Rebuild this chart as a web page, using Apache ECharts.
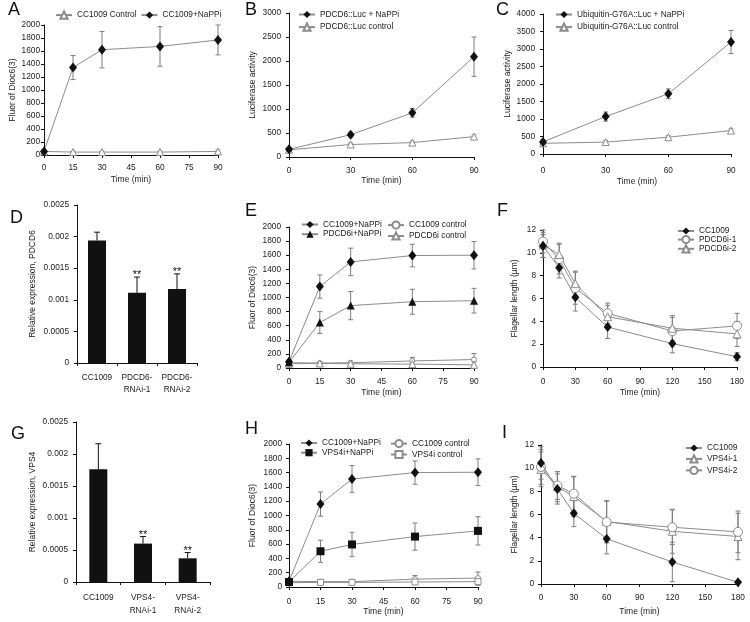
<!DOCTYPE html>
<html><head><meta charset="utf-8">
<script src="https://cdn.jsdelivr.net/npm/echarts@6/dist/echarts.min.js"></script>
<style>html,body{margin:0;padding:0;background:#fff}#c{width:750px;height:622px}</style>
</head><body><div id="c"></div>
<script>
// ---------- DATA ----------
// Panel A
const timeA = [0, 15, 30, 60, 90];
const aControl = [55, 45, 45, 45, 55];
const aControlErr = [15, 15, 15, 15, 20];
const aNaPPi = [55, 1345, 1620, 1670, 1770];
const aNaPPiErr = [20, 185, 280, 305, 230];
// Panel B
const timeB = [0, 30, 60, 90];
const bNaPPi = [160, 465, 920, 2090];
const bNaPPiErr = [40, 50, 90, 410];
const bControl = [150, 260, 300, 425];
const bControlErr = [35, 30, 30, 35];
// Panel C
const timeC = [0, 30, 60, 90];
const cNaPPi = [345, 1070, 1720, 3200];
const cNaPPiErr = [60, 130, 140, 330];
const cControl = [305, 340, 480, 670];
const cControlErr = [40, 40, 40, 50];
// Panel D
const catsD = ['CC1009', 'PDCD6-\nRNAi-1', 'PDCD6-\nRNAi-2'];
const dExpr = [0.00194, 0.00111, 0.00117];
const dErr = [0.00013, 0.00025, 0.00024];
const dSig = ['', '**', '**'];
// Panel E
const timeE = [0, 15, 30, 60, 90];
const eCCNaPPi = [90, 1155, 1505, 1595, 1600];
const eCCNaPPiErr = [25, 165, 195, 160, 195];
const ePDNaPPi = [80, 645, 885, 940, 955];
const ePDNaPPiErr = [25, 155, 200, 177, 175];
const eCCControl = [75, 70, 75, 100, 120];
const eCCControlErr = [15, 15, 20, 50, 85];
const ePDControl = [60, 65, 60, 55, 45];
const ePDControlErr = [15, 15, 15, 30, 40];
// Panel F
const timeF = [0, 15, 30, 60, 120, 180];
const fCC = [10.6, 8.7, 6.1, 3.5, 2.05, 0.9];
const fCCErr = [1.0, 0.9, 1.2, 1.0, 0.8, 0.35];
const fPD1 = [11.0, 9.45, 6.9, 4.7, 3.15, 3.6];
const fPD1Err = [1.0, 1.3, 1.4, 0.9, 1.2, 1.1];
const fPD2 = [10.7, 9.85, 7.3, 4.4, 3.4, 2.9];
const fPD2Err = [1.1, 1.0, 1.1, 1.0, 1.1, 1.1];
// Panel G
const catsG = ['CC1009', 'VPS4-\nRNAi-1', 'VPS4-\nRNAi-2'];
const gExpr = [0.00176, 0.0006, 0.00037];
const gErr = [0.0004, 0.00011, 0.00009];
const gSig = ['', '**', '**'];
// Panel H
const timeH = [0, 15, 30, 60, 90];
const hCCNaPPi = [80, 1160, 1510, 1600, 1605];
const hCCNaPPiErr = [25, 170, 187, 163, 187];
const hVPSNaPPi = [70, 500, 595, 705, 785];
const hVPSNaPPiErr = [25, 155, 170, 190, 198];
const hCCControl = [80, 75, 75, 110, 125];
const hCCControlErr = [15, 15, 20, 50, 85];
const hVPSControl = [60, 65, 65, 70, 75];
const hVPSControlErr = [15, 15, 15, 30, 50];
// Panel I
const timeI = [0, 15, 30, 60, 120, 180];
const iCC = [10.45, 8.2, 6.1, 3.9, 1.9, 0.15];
const iCCErr = [1.4, 1.3, 1.15, 1.3, 1.7, 0.1];
const iVPS1 = [9.9, 8.4, 7.55, 5.4, 4.55, 4.1];
const iVPS1Err = [1.5, 1.3, 1.7, 1.8, 1.9, 2.0];
const iVPS2 = [10.1, 8.5, 7.8, 5.35, 4.9, 4.5];
const iVPS2Err = [1.5, 1.2, 1.5, 1.8, 1.5, 1.8];

const panelLetters = ['A', 'B', 'C', 'D', 'E', 'F', 'G', 'H', 'I'];

// ---------- STYLE ----------
const FONT = '"Liberation Sans", Arial, Helvetica, sans-serif';
const GRAY = '#8c8c8c';
const ERR = '#7d7d7d';
const BLACK = '#111';
const TXT = '#222';
const FS = 8.3;
const plain = v => String(v);

const grids = [
  {left: 44, top: 25, width: 174, height: 130},
  {left: 289, top: 13, width: 185, height: 144},
  {left: 543, top: 14, width: 188, height: 140},
  {left: 77, top: 205, width: 120, height: 158},
  {left: 289, top: 227, width: 185, height: 141},
  {left: 543, top: 230, width: 194, height: 137},
  {left: 76, top: 422, width: 134, height: 160},
  {left: 289, top: 444, width: 189, height: 143},
  {left: 541, top: 445, width: 197, height: 139}
];

const axisLine = {show: true, lineStyle: {color: BLACK, width: 1}};
const axisTick = {show: true, length: 3, lineStyle: {color: BLACK, width: 1}};

function xVal(gi, max, interval, margin, nameGap) {
  return {type: 'value', gridIndex: gi, min: 0, max, interval,
    axisLine, axisTick, splitLine: {show: false},
    axisLabel: {fontSize: FS, color: TXT, margin, fontFamily: FONT, formatter: plain},
    name: 'Time (min)', nameLocation: 'middle', nameGap,
    nameTextStyle: {fontSize: 8.5, color: TXT, fontFamily: FONT}};
}
function xCat(gi, data, margin, lh) {
  return {type: 'category', gridIndex: gi, data, boundaryGap: true,
    axisLine, axisTick: {show: true, length: 3, alignWithLabel: false, lineStyle: {color: BLACK}},
    axisLabel: {fontSize: FS, color: TXT, margin, lineHeight: lh, fontFamily: FONT, interval: 0}};
}
function yVal(gi, max, interval, margin, name, nameGap) {
  return {type: 'value', gridIndex: gi, min: 0, max, interval,
    axisLine, axisTick, splitLine: {show: false},
    axisLabel: {fontSize: FS, color: TXT, margin, fontFamily: FONT, formatter: plain},
    name, nameLocation: 'middle', nameGap, nameRotate: 90,
    nameTextStyle: {fontSize: 8.5, color: TXT, fontFamily: FONT}};
}

const SYM = {
  bDiamond: {symbol: 'diamond', size: [8, 10], fill: BLACK, stroke: BLACK, bw: 0},
  bTri: {symbol: 'triangle', size: 8, fill: BLACK, stroke: BLACK, bw: 0},
  bRect: {symbol: 'rect', size: 8, fill: BLACK, stroke: BLACK, bw: 0},
  oTri: {symbol: 'triangle', size: 7, fill: '#fff', stroke: GRAY, bw: 1},
  oCircS: {symbol: 'circle', size: 5, fill: '#fff', stroke: GRAY, bw: 1},
  oRectS: {symbol: 'rect', size: 6, fill: '#fff', stroke: GRAY, bw: 1},
  oCirc: {symbol: 'circle', size: 9, fill: '#fff', stroke: GRAY, bw: 1},
  oTriL: {symbol: 'triangle', size: 8, fill: '#fff', stroke: GRAY, bw: 1}
};

function line(name, xs, ys, gi, s, z) {
  return {type: 'line', name, xAxisIndex: gi, yAxisIndex: gi, z: z || 3,
    data: xs.map((x, i) => [x, ys[i]]),
    symbol: s.symbol, symbolSize: s.size, showAllSymbol: true,
    lineStyle: {color: GRAY, width: 1},
    itemStyle: {color: s.fill, borderColor: s.stroke, borderWidth: s.bw},
    emphasis: {disabled: true}};
}
function err(xs, ys, es, gi, capW) {
  const w = (capW || 5) / 2;
  return {type: 'custom', xAxisIndex: gi, yAxisIndex: gi, z: 2, silent: true,
    data: xs.map((x, i) => [x, ys[i] - es[i], ys[i] + es[i]]),
    encode: {x: 0, y: [1, 2]},
    renderItem(p, api) {
      const x = api.value(0);
      const lo = api.coord([x, api.value(1)]);
      const hi = api.coord([x, api.value(2)]);
      const st = {stroke: ERR, lineWidth: 1};
      return {type: 'group', children: [
        {type: 'line', shape: {x1: lo[0], y1: lo[1], x2: hi[0], y2: hi[1]}, style: st},
        {type: 'line', shape: {x1: lo[0] - w, y1: lo[1], x2: lo[0] + w, y2: lo[1]}, style: st},
        {type: 'line', shape: {x1: hi[0] - w, y1: hi[1], x2: hi[0] + w, y2: hi[1]}, style: st}
      ]};
    }};
}
function bar(vals, gi) {
  return {type: 'bar', xAxisIndex: gi, yAxisIndex: gi, data: vals, barWidth: 18,
    itemStyle: {color: BLACK}, emphasis: {disabled: true}, z: 2};
}
function barErr(vals, errs, sig, gi) {
  return {type: 'custom', xAxisIndex: gi, yAxisIndex: gi, z: 3, silent: true,
    data: vals.map((v, i) => [i, v, v + errs[i]]),
    encode: {x: 0, y: [1, 2]},
    renderItem(p, api) {
      const i = p.dataIndex;
      const a = api.coord([api.value(0), api.value(1)]);
      const b = api.coord([api.value(0), api.value(2)]);
      const st = {stroke: BLACK, lineWidth: 1};
      const ch = [
        {type: 'line', shape: {x1: a[0], y1: a[1], x2: b[0], y2: b[1]}, style: st},
        {type: 'line', shape: {x1: b[0] - 3, y1: b[1], x2: b[0] + 3, y2: b[1]}, style: st}
      ];
      if (sig[i]) ch.push({type: 'text', x: b[0], y: b[1] - 2,
        style: {text: sig[i], fontSize: 11, fontFamily: FONT, fill: BLACK, align: 'center', verticalAlign: 'middle'}});
      return {type: 'group', children: ch};
    }};
}
function legend(left, top, orient, gap, names, ih) {
  return {left, top, orient, padding: 0, itemGap: gap, itemWidth: 16, itemHeight: ih || 9,
    selectedMode: false, data: names,
    textStyle: {fontSize: FS, color: TXT, fontFamily: FONT}};
}

const letterPos = [[8, 1], [245, 1], [496, 1], [10, 209], [245, 202], [497, 202], [11, 425], [245, 420], [502, 424]];

const option = {
  animation: false,
  backgroundColor: '#fff',
  title: panelLetters.map((t, i) => ({text: t, left: letterPos[i][0], top: letterPos[i][1], padding: 0,
    textStyle: {fontSize: 18, fontWeight: 'normal', color: BLACK, fontFamily: FONT}})),
  grid: grids,
  xAxis: [
    xVal(0, 90, 15, 9, 20),
    xVal(1, 90, 30, 10, 19),
    xVal(2, 90, 30, 13, 23),
    xCat(3, catsD, 9, 11.7),
    xVal(4, 90, 15, 10, 20),
    xVal(5, 180, 30, 11, 21),
    xCat(6, catsG, 10, 12.3),
    xVal(7, 90, 15, 11, 20),
    xVal(8, 180, 30, 10, 23)
  ],
  yAxis: [
    yVal(0, 2000, 200, 4, 'Fluor of Dioc6(3)', 26.5),
    yVal(1, 3000, 500, 8, 'Luciferase activity', 31.4),
    yVal(2, 4000, 500, 8, 'Luciferase activity', 30.4),
    yVal(3, 0.0025, 0.0005, 8, 'Relative expression, PDCD6', 39.4),
    yVal(4, 2000, 200, 8, 'Fluor of Dioc6(3)', 31.4),
    yVal(5, 12, 2, 7, 'Flagellar length (µm)', 23.7),
    yVal(6, 0.0025, 0.0005, 8, 'Relative expression, VPS4', 38.4),
    yVal(7, 2000, 200, 7, 'Fluor of Dioc6(3)', 32),
    yVal(8, 12, 2, 7, 'Flagellar length (µm)', 21.7)
  ],
  legend: [
    legend(55, 10.5, 'horizontal', 4, ['CC1009 Control', 'CC1009+NaPPi']),
    legend(298, 10.5, 'vertical', 4, ['PDCD6::Luc + NaPPi', 'PDCD6::Luc control']),
    legend(555, 10.5, 'vertical', 4, ['Ubiquitin-G76A::Luc + NaPPi', 'Ubiquitin-G76A::Luc control']),
    legend(301, 220.5, 'vertical', 1.7, ['CC1009+NaPPi', 'PDCD6i+NaPPi']),
    legend(387, 220.5, 'vertical', 1.7, ['CC1009 control', 'PDCD6i control']),
    legend(677, 227, 'vertical', 0, ['CC1009', 'PDCD6i-1', 'PDCD6i-2']),
    legend(300, 439, 'vertical', 1.7, ['CC1009+NaPPi', 'VPS4i+NaPPi']),
    legend(390, 439, 'vertical', 1.7, ['CC1009 control', 'VPS4i control']),
    legend(685, 444, 'vertical', 2.3, ['CC1009', 'VPS4i-1', 'VPS4i-2'])
  ],
  series: [
    // A
    err(timeA, aControl, aControlErr, 0), line('CC1009 Control', timeA, aControl, 0, SYM.oTri),
    err(timeA, aNaPPi, aNaPPiErr, 0), line('CC1009+NaPPi', timeA, aNaPPi, 0, SYM.bDiamond, 4),
    // B
    err(timeB, bNaPPi, bNaPPiErr, 1), line('PDCD6::Luc + NaPPi', timeB, bNaPPi, 1, SYM.bDiamond, 4),
    err(timeB, bControl, bControlErr, 1), line('PDCD6::Luc control', timeB, bControl, 1, SYM.oTri),
    // C
    err(timeC, cNaPPi, cNaPPiErr, 2), line('Ubiquitin-G76A::Luc + NaPPi', timeC, cNaPPi, 2, SYM.bDiamond, 4),
    err(timeC, cControl, cControlErr, 2), line('Ubiquitin-G76A::Luc control', timeC, cControl, 2, SYM.oTri),
    // D
    bar(dExpr, 3), barErr(dExpr, dErr, dSig, 3),
    // E
    err(timeE, eCCNaPPi, eCCNaPPiErr, 4), line('CC1009+NaPPi', timeE, eCCNaPPi, 4, SYM.bDiamond, 4),
    err(timeE, ePDNaPPi, ePDNaPPiErr, 4), line('PDCD6i+NaPPi', timeE, ePDNaPPi, 4, SYM.bTri, 4),
    err(timeE, eCCControl, eCCControlErr, 4), line('CC1009 control', timeE, eCCControl, 4, SYM.oCircS),
    err(timeE, ePDControl, ePDControlErr, 4), line('PDCD6i control', timeE, ePDControl, 4, SYM.oTri),
    // F
    err(timeF, fCC, fCCErr, 5), line('CC1009', timeF, fCC, 5, SYM.bDiamond, 4),
    err(timeF, fPD1, fPD1Err, 5), line('PDCD6i-1', timeF, fPD1, 5, SYM.oCirc),
    err(timeF, fPD2, fPD2Err, 5), line('PDCD6i-2', timeF, fPD2, 5, SYM.oTriL),
    // G
    bar(gExpr, 6), barErr(gExpr, gErr, gSig, 6),
    // H
    err(timeH, hCCNaPPi, hCCNaPPiErr, 7), line('CC1009+NaPPi', timeH, hCCNaPPi, 7, SYM.bDiamond, 4),
    err(timeH, hVPSNaPPi, hVPSNaPPiErr, 7), line('VPS4i+NaPPi', timeH, hVPSNaPPi, 7, SYM.bRect, 4),
    err(timeH, hCCControl, hCCControlErr, 7), line('CC1009 control', timeH, hCCControl, 7, SYM.oCircS),
    err(timeH, hVPSControl, hVPSControlErr, 7), line('VPS4i control', timeH, hVPSControl, 7, SYM.oRectS),
    // I
    err(timeI, iCC, iCCErr, 8), line('CC1009', timeI, iCC, 8, SYM.bDiamond, 4),
    err(timeI, iVPS1, iVPS1Err, 8), line('VPS4i-1', timeI, iVPS1, 8, SYM.oTriL),
    err(timeI, iVPS2, iVPS2Err, 8), line('VPS4i-2', timeI, iVPS2, 8, SYM.oCirc)
  ]
};

const chart = echarts.init(document.getElementById('c'), null, {renderer: 'canvas'});
chart.setOption(option);
</script></body></html>
